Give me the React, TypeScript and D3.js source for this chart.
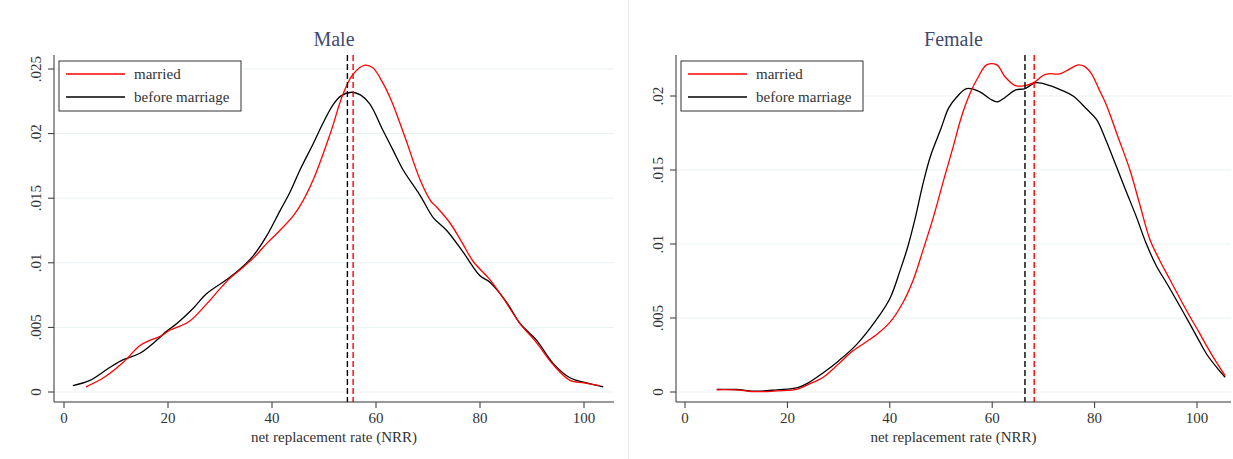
import React from "react";
import * as d3 from "d3";

// kernel density estimates: [NRR, density]
const maleMarried: [number, number][] = [
  [4.2, 0.0004], [7.6, 0.0011], [11.4, 0.0023], [14.6, 0.0036], [16.5, 0.004],
  [18.5, 0.0043], [20.4, 0.0048], [22.3, 0.0051], [24.2, 0.0055], [27.4, 0.0068],
  [29.8, 0.0079], [31.9, 0.0088], [34, 0.0095], [36.5, 0.0104], [39, 0.0115],
  [41.5, 0.0125], [44, 0.0136], [45.4, 0.0144], [47.9, 0.0164], [51.2, 0.02],
  [53.7, 0.0231], [55.6, 0.0246], [57.9, 0.0253], [59.4, 0.0251], [60.8, 0.0243],
  [62.7, 0.0228], [65.6, 0.0197], [68.5, 0.0164], [70.5, 0.0148], [71.7, 0.0143],
  [74.2, 0.0131], [76.5, 0.0116], [78.7, 0.0101], [81.9, 0.0087], [84.4, 0.0073],
  [87.7, 0.0053], [90.9, 0.0038], [94.1, 0.0021], [97.3, 0.0009], [100, 0.0007],
  [103, 0.0005],
];

const maleBefore: [number, number][] = [
  [1.7, 0.0005], [5, 0.0009], [8.8, 0.0019], [11.4, 0.0025], [14.6, 0.003],
  [17.8, 0.004], [19.7, 0.0047], [21.7, 0.0053], [24.9, 0.0065], [27.4, 0.0076],
  [31.3, 0.0087], [33.8, 0.0095], [36.5, 0.0106], [39, 0.0121], [41.5, 0.014],
  [43.5, 0.0155], [45.4, 0.0172], [47.9, 0.0192], [49.8, 0.0208], [51.7, 0.0222],
  [53.2, 0.0229], [55.3, 0.0232], [57, 0.023], [58.8, 0.0223], [61.4, 0.0202],
  [63.3, 0.0187], [65.2, 0.0172], [68.5, 0.0152], [71, 0.0135], [73.6, 0.0125],
  [76.8, 0.0108], [80, 0.009], [81.9, 0.0085], [85.2, 0.0069], [87.7, 0.0053],
  [90.9, 0.004], [94.1, 0.0022], [97.3, 0.0011], [100.5, 0.0007], [103.7, 0.0004],
];

const femaleMarried: [number, number][] = [
  [6.2, 0.00015], [10, 0.00014], [14, 0.00002], [18, 0.00008], [22, 0.0002],
  [24, 0.0005], [27, 0.001], [30, 0.0019], [32.5, 0.0027], [35, 0.0033],
  [37.5, 0.0039], [40, 0.0047], [42.5, 0.006], [44.5, 0.0075], [46.5, 0.0096],
  [48.5, 0.0118], [50.5, 0.0143], [52.4, 0.0166], [54, 0.0186], [55.7, 0.0202],
  [57.3, 0.0213], [58.9, 0.0221], [60.9, 0.0221], [62.5, 0.0213], [64.5, 0.0207],
  [66.4, 0.0207], [68.1, 0.0209], [70, 0.0214], [71, 0.0215], [73.2, 0.0215],
  [75, 0.0218], [76.8, 0.0221], [78, 0.022], [79.4, 0.0215], [80.8, 0.0205],
  [82.3, 0.0194], [84.5, 0.0173], [86.9, 0.015], [88.8, 0.0127], [90.8, 0.0103],
  [92.7, 0.0089], [94.7, 0.0076], [96.7, 0.0063], [98.6, 0.0051], [100.3, 0.0041],
  [101.9, 0.0031], [103.8, 0.002], [105.5, 0.0011],
];

const femaleBefore: [number, number][] = [
  [6.2, 0.00018], [10, 0.00017], [14, 0.00005], [18, 0.00015], [22, 0.0003],
  [24, 0.0006], [27, 0.0013], [30, 0.0021], [33.5, 0.0032], [37, 0.0047],
  [40, 0.0063], [42, 0.0082], [43.5, 0.0098], [45, 0.0118], [46.5, 0.0141],
  [48, 0.016], [50, 0.0178], [51.5, 0.0192], [53, 0.0199], [55, 0.0205],
  [57.5, 0.0203], [59.6, 0.0198], [61, 0.0196], [62.5, 0.0199], [64.5, 0.0204],
  [66.4, 0.0205], [68.5, 0.0209], [71.3, 0.0207], [73.5, 0.0204], [75.8, 0.02],
  [78.5, 0.0191], [80.4, 0.0184], [82, 0.0172], [84.3, 0.0152], [86, 0.0137],
  [88.2, 0.0118], [90, 0.0101], [92.1, 0.0085], [94, 0.0074], [96, 0.0062],
  [98.6, 0.0046], [100.5, 0.0034], [102, 0.0025], [104, 0.0016], [105.5, 0.001],
];

// group means (dashed lines)
const maleMeans = [54.5, 55.6]; // before, married
const femaleMeans = [66.4, 68.2];

const xTicks = [0, 20, 40, 60, 80, 100];
const maleYTicks = [0, 0.005, 0.01, 0.015, 0.02, 0.025];
const maleYLabels = ["0", ".005", ".01", ".015", ".02", ".025"];
const femaleYTicks = [0, 0.005, 0.01, 0.015, 0.02];
const femaleYLabels = ["0", ".005", ".01", ".015", ".02"];
const legendLabels = ["married", "before marriage"];

const FONT = "'Liberation Serif', 'DejaVu Serif', serif";
const TXT = "#333";

type PanelProps = {
  title: string;
  left: number; // y axis position
  right: number;
  x0: number; // pixel of x = 0
  x100: number; // pixel of x = 100
  yTop: number; // pixel of the top tick
  yMax: number;
  yTicks: number[];
  yLabels: string[];
  married: [number, number][];
  before: [number, number][];
  means: number[];
};

function Panel(p: PanelProps) {
  const top = 55;
  const bottom = 402;
  const x = d3.scaleLinear().domain([0, 100]).range([p.x0, p.x100]);
  const y = d3.scaleLinear().domain([0, p.yMax]).range([392, p.yTop]);
  const line = d3
    .line<[number, number]>()
    .x((d) => x(d[0]))
    .y((d) => y(d[1]))
    .curve(d3.curveCatmullRom.alpha(0.5));
  const cx = (p.left + p.right) / 2;

  return (
    <g fontFamily={FONT}>
      {/* grid */}
      {p.yTicks.map((t) => (
        <line key={t} x1={p.left} x2={p.right} y1={y(t)} y2={y(t)} stroke="#e9f1f3" strokeWidth={1} />
      ))}
      {/* curves */}
      <path d={line(p.before) ?? ""} fill="none" stroke="#000" strokeWidth={1.3} />
      <path d={line(p.married) ?? ""} fill="none" stroke="#ff0000" strokeWidth={1.3} />
      {/* means */}
      <line x1={x(p.means[0])} x2={x(p.means[0])} y1={top} y2={bottom} stroke="#000" strokeWidth={1.4} strokeDasharray="6,3" />
      <line x1={x(p.means[1])} x2={x(p.means[1])} y1={top} y2={bottom} stroke="#ff0000" strokeWidth={1.4} strokeDasharray="6,3" />
      {/* axes */}
      <line x1={p.left} x2={p.left} y1={top} y2={bottom} stroke={TXT} strokeWidth={1} />
      <line x1={p.left} x2={p.right} y1={bottom} y2={bottom} stroke={TXT} strokeWidth={1} />
      {p.yTicks.map((t, i) => (
        <g key={t}>
          <line x1={p.left - 6} x2={p.left} y1={y(t)} y2={y(t)} stroke={TXT} />
          <text
            transform={`translate(${p.left - 13},${y(t)}) rotate(-90)`}
            textAnchor="middle"
            fontSize={15}
            fill={TXT}
          >
            {p.yLabels[i]}
          </text>
        </g>
      ))}
      {xTicks.map((t) => (
        <g key={t}>
          <line x1={x(t)} x2={x(t)} y1={bottom} y2={bottom + 6} stroke={TXT} />
          <text x={x(t)} y={423} textAnchor="middle" fontSize={15} fill={TXT}>
            {t}
          </text>
        </g>
      ))}
      <text x={cx} y={442} textAnchor="middle" fontSize={15} fill={TXT}>
        net replacement rate (NRR)
      </text>
      <text x={cx} y={46} textAnchor="middle" fontSize={20} fill="#3f4b6e">
        {p.title}
      </text>
      {/* legend */}
      <g transform={`translate(${p.left + 5},61)`}>
        <rect x={0} y={0} width={182} height={50} fill="#fff" stroke={TXT} strokeWidth={1} />
        <line x1={7} x2={66} y1={13} y2={13} stroke="#ff0000" strokeWidth={1.3} />
        <line x1={7} x2={66} y1={36} y2={36} stroke="#000" strokeWidth={1.3} />
        <text x={75} y={18} fontSize={15} fill={TXT}>
          {legendLabels[0]}
        </text>
        <text x={75} y={41} fontSize={15} fill={TXT}>
          {legendLabels[1]}
        </text>
      </g>
    </g>
  );
}

export default function App() {
  return (
    <svg
      width={1233}
      height={459}
      style={{ position: "absolute", left: 0, top: 0, background: "#fff" }}
    >
      <rect width={1233} height={459} fill="#fff" />
      <line x1={628.5} x2={628.5} y1={0} y2={459} stroke="#ececec" />
      <Panel
        title="Male"
        left={54}
        right={614}
        x0={64}
        x100={584}
        yTop={69}
        yMax={0.025}
        yTicks={maleYTicks}
        yLabels={maleYLabels}
        married={maleMarried}
        before={maleBefore}
        means={maleMeans}
      />
      <Panel
        title="Female"
        left={676}
        right={1231}
        x0={685}
        x100={1197}
        yTop={96}
        yMax={0.02}
        yTicks={femaleYTicks}
        yLabels={femaleYLabels}
        married={femaleMarried}
        before={femaleBefore}
        means={femaleMeans}
      />
    </svg>
  );
}
